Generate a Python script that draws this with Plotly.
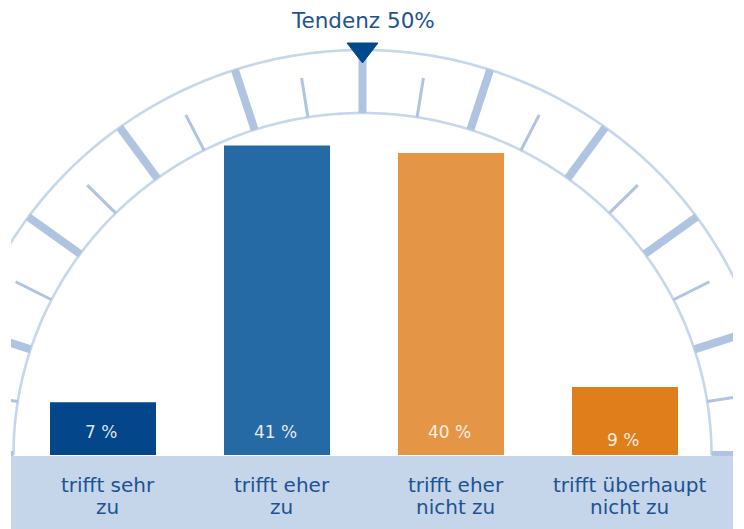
import math
import plotly.graph_objects as go

# ---------------- data ----------------
categories = ["trifft sehr zu", "trifft eher zu", "trifft eher nicht zu", "trifft überhaupt nicht zu"]
category_lines = [["trifft sehr", "zu"], ["trifft eher", "zu"], ["trifft eher", "nicht zu"], ["trifft überhaupt", "nicht zu"]]
values = [7, 41, 40, 9]
value_labels = ["7 %", "41 %", "40 %", "9 %"]
tendency = 50
tendency_label = "Tendenz 50%"
scale_major = list(range(0, 101, 10))
scale_minor = list(range(5, 100, 10))

# ---------------- style / geometry (window pixel coordinates) ----------------
W, H = 744, 529                # browser window
OFF = 8                        # default page (body) margin
LEFT, RIGHT = 11, 733          # visible drawing window (px)
CX, CY = 362.5, 455.0          # gauge centre (px)
IN_A, IN_B = 349.0, 342.0      # inner arc radii (px)
OUT_A, OUT_B = 413.0, 405.0    # outer arc radii (px)
BASE_PX = 455.0                # pixel row of value 0
PX_PER_UNIT = 7.55
FIRST_CENTER_PX = 103.0
CAT_STEP_PX = 174.0
BAR_WIDTH_PX = 106.0

bar_colors = ["#03468a", "#2569a5", "#e59546", "#df7e1b"]
label_lift = [23, 23, 23, 15]
arc_color = "#c6d6eb"
tick_color = "#afc4e1"
band_color = "#c5d6ea"
marker_color = "#004a8b"
text_color = "#1d5390"
FONT = "DejaVu Sans, Verdana, sans-serif"

fig = go.Figure()
fig.add_trace(go.Bar(
    x=categories, y=values,
    marker=dict(color=bar_colors, line=dict(width=0)),
    hoverinfo="skip", showlegend=False,
))
# helper trace so the pixel-space overlay axes exist
fig.add_trace(go.Scatter(x=[CX], y=[CY], xaxis="x2", yaxis="y2", mode="markers",
                         marker=dict(opacity=0), hoverinfo="skip", showlegend=False))


def pct_to_angle(p):
    return math.radians(180 - 1.8 * p)


def ell(a, b, th):
    return CX + a * math.cos(th), CY - b * math.sin(th)


shapes = []


def arc_path(a, b):
    pts = [ell(a, b, math.radians(d / 2)) for d in range(0, 361)]
    return "M " + " L ".join(f"{x:.2f},{y:.2f}" for x, y in pts)


for a, b in [(IN_A, IN_B), (OUT_A, OUT_B)]:
    shapes.append(dict(type="path", path=arc_path(a, b), xref="x2", yref="y2",
                       line=dict(color=arc_color, width=2.6), layer="below"))

for p in scale_major:
    th = pct_to_angle(p)
    x0, y0 = ell(IN_A, IN_B, th)
    x1, y1 = ell(OUT_A, OUT_B, th)
    shapes.append(dict(type="line", x0=x0, y0=y0, x1=x1, y1=y1, xref="x2", yref="y2",
                       line=dict(color=tick_color, width=8), layer="below"))

for p in scale_minor:
    th = pct_to_angle(p)
    x0, y0 = ell(IN_A, IN_B, th)
    x1, y1 = ell(IN_A + 0.63 * (OUT_A - IN_A), IN_B + 0.63 * (OUT_B - IN_B), th)
    shapes.append(dict(type="line", x0=x0, y0=y0, x1=x1, y1=y1, xref="x2", yref="y2",
                       line=dict(color=tick_color, width=3), layer="below"))

# bottom band
shapes.append(dict(type="rect", x0=0, x1=W, y0=BASE_PX + 1, y1=H + 5, xref="x2", yref="y2",
                   fillcolor=band_color, line=dict(width=0), layer="below"))

# tendency marker
th = pct_to_angle(tendency)
px, py = ell(OUT_A, OUT_B, th)
ux, uy = math.cos(th), -math.sin(th)
tx, ty = math.sin(th), math.cos(th)
bx, by = px + 7 * ux, py + 7 * uy
tipx, tipy = px - 13 * ux, py - 13 * uy
tri = (f"M {bx - 15.5 * tx:.2f},{by - 15.5 * ty:.2f} L {bx + 15.5 * tx:.2f},{by + 15.5 * ty:.2f} "
       f"L {tipx:.2f},{tipy:.2f} Z")
shapes.append(dict(type="path", path=tri, xref="x2", yref="y2",
                   fillcolor=marker_color, line=dict(color=marker_color, width=1), layer="below"))

annotations = []
annotations.append(dict(text=tendency_label, x=px, y=20, xref="x2", yref="y2",
                        showarrow=False, xanchor="center", yanchor="middle",
                        font=dict(family=FONT, size=21.5, color=text_color)))

for cat, lab, lift in zip(categories, value_labels, label_lift):
    annotations.append(dict(text=lab, x=cat, y=0, xref="x", yref="y", showarrow=False,
                            xanchor="center", yanchor="middle", yshift=lift, xshift=-2,
                            font=dict(family=FONT, size=17, color="rgba(255,255,255,0.88)")))

for cat, lines in zip(categories, category_lines):
    for i, line in enumerate(lines):
        annotations.append(dict(text=line, x=cat, y=0, xref="x", yref="y", showarrow=False,
                                xanchor="center", yanchor="middle", yshift=-30 - 22 * i, xshift=4.5,
                                font=dict(family=FONT, size=20, color=text_color)))

x_lo = (LEFT - FIRST_CENTER_PX) / CAT_STEP_PX
x_hi = (RIGHT - FIRST_CENTER_PX) / CAT_STEP_PX
y_hi = (BASE_PX - OFF) / PX_PER_UNIT
y_lo = -(H - BASE_PX) / PX_PER_UNIT

fig.update_layout(
    width=W - OFF, height=H - OFF,
    margin=dict(l=LEFT - OFF, r=W - RIGHT, t=0, b=0, pad=0),
    paper_bgcolor="white", plot_bgcolor="white",
    bargap=1 - BAR_WIDTH_PX / CAT_STEP_PX,
    showlegend=False,
    xaxis=dict(type="category", range=[x_lo, x_hi], visible=False, fixedrange=True),
    yaxis=dict(range=[y_lo, y_hi], visible=False, fixedrange=True),
    xaxis2=dict(range=[LEFT, RIGHT], overlaying="x", anchor="y2", visible=False, fixedrange=True),
    yaxis2=dict(range=[H, OFF], overlaying="y", anchor="x2", visible=False, fixedrange=True),
    shapes=shapes,
    annotations=annotations,
)

fig.write_html("out.html", config={"displayModeBar": False})
